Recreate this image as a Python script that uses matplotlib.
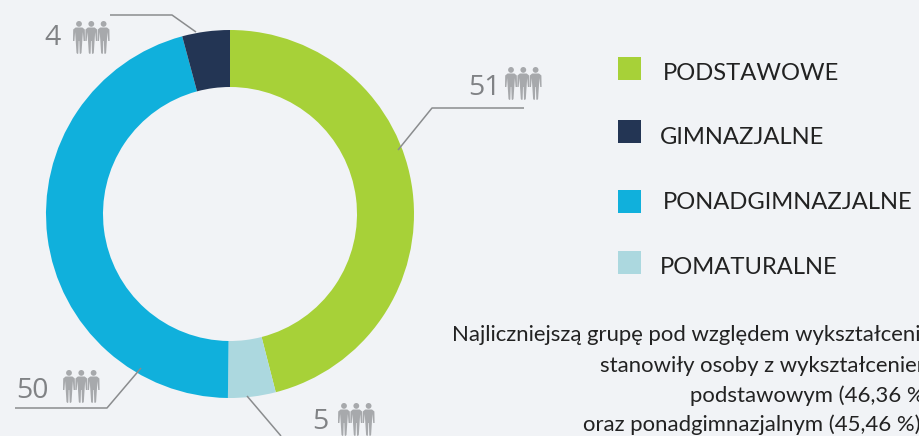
import matplotlib
matplotlib.use("Agg")
import matplotlib.pyplot as plt
from matplotlib.patches import Circle, Polygon, Rectangle

W, H = 919, 436
BG = "#F1F3F6"
categories = ["PODSTAWOWE", "POMATURALNE", "PONADGIMNAZJALNE", "GIMNAZJALNE"]
# slice sizes as drawn in the picture (they differ slightly from the printed counts)
values = [50.6, 4.6, 50.2, 4.6]
colors = ["#A7D138", "#ACD8DF", "#10B0DC", "#233554"]
count_labels = ["4", "51", "50", "5"]
legend_order = ["PODSTAWOWE", "GIMNAZJALNE", "PONADGIMNAZJALNE", "POMATURALNE"]
note_lines = ["Najliczniejszą grupę pod względem wykształcenia",
              "stanowiły osoby z wykształceniem",
              "podstawowym (46,36 %)",
              "oraz ponadgimnazjalnym (45,46 %)"]

plt.rcParams["font.family"] = ["Lato", "DejaVu Sans"]
fig = plt.figure(figsize=(W / 100, H / 100), dpi=100, facecolor=BG)
ax = fig.add_axes([0, 0, 1, 1], facecolor=BG)

def Y(y):
    return H - y

ax.pie(values, colors=colors, startangle=90, counterclock=False,
       center=(230, Y(214)), radius=184, frame=True,
       wedgeprops=dict(width=57, linewidth=0))
ax.set_xlim(0, W)
ax.set_ylim(0, H)
ax.set_aspect("equal")
ax.axis("off")

LINE = "#8A8C8E"
leaders = [
    ([110, 172, 196], [15, 15, 32]),
    ([524, 432, 398], [108, 108, 150]),
    ([15, 107, 141], [408, 408, 368]),
    ([247, 281], [396, 436]),
]
for xs, ys in leaders:
    ax.plot(xs, [Y(v) for v in ys], color=LINE, lw=1.1, solid_capstyle="butt", zorder=3)

GREY = "#A7A9AC"
def person(x, top):
    ax.add_patch(Circle((x, Y(top + 2.9)), 2.9, color=GREY, lw=0))
    pts = [(-3.4, 6.5), (3.4, 6.5), (5.8, 8.5), (6, 20), (4.6, 20), (3.9, 11), (3.4, 18),
           (2.5, 32), (1.6, 33), (0.7, 32.5), (0.3, 20), (-0.3, 20), (-0.7, 32.5), (-1.6, 33),
           (-2.5, 32), (-3.4, 18), (-3.9, 11), (-4.6, 20), (-6, 20), (-5.8, 8.5)]
    ax.add_patch(Polygon([(x + a, Y(top + b)) for a, b in pts], closed=True, color=GREY, lw=0))

def people(x0, top):
    for i in range(3):
        person(x0 + 6 + i * 12.3, top)

count_pos = [(44, 38, 73, 21), (468, 88, 505, 67), (16, 391, 63, 370), (312, 422, 338, 403)]
for txt, (tx, ty, ix, iy) in zip(count_labels, count_pos):
    ax.text(tx, Y(ty), txt, fontsize=20.5, color="#808285", ha="left", va="center",
            family=["Open Sans", "DejaVu Sans"])
    people(ix, iy)

legend_rows = [(618, 68, 663, 73), (618, 131, 660, 138), (618, 201, 663, 203), (618, 262, 660, 268)]
for name, (sx, sy, tx, ty) in zip(legend_order, legend_rows):
    c = colors[categories.index(name)]
    ax.add_patch(Rectangle((sx, Y(sy) - 12), 23, 23, color=c, lw=0))
    ax.text(tx, Y(ty), name, fontsize=17.1, color="#222222", ha="left", va="center", clip_on=True)

note_pos = [(452, 335), (600, 366), (690, 396), (583, 425)]
for line, (x, y) in zip(note_lines, note_pos):
    ax.text(x, Y(y), line, fontsize=15.9, color="#222222", ha="left", va="center", clip_on=True)

fig.savefig("out.png", dpi=100, facecolor=BG)
